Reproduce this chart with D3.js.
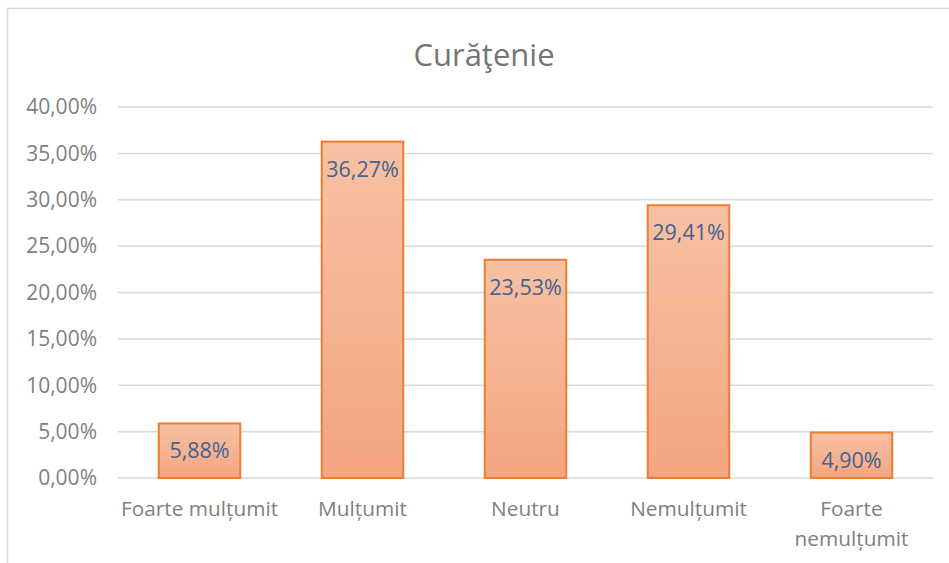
<!DOCTYPE html>
<html><head><meta charset="utf-8">
<script src="https://cdn.jsdelivr.net/npm/d3@7"></script>
<style>body{margin:0;background:#fff}svg{display:block}</style>
</head><body>
<svg id="c" width="949" height="563"></svg>
<script>
const categories = [["Foarte mulțumit"], ["Mulțumit"], ["Neutru"], ["Nemulțumit"], ["Foarte", "nemulțumit"]];
const values = [5.88, 36.27, 23.53, 29.41, 4.90];
const yTicks = [0, 5, 10, 15, 20, 25, 30, 35, 40];
const title = "Curăţenie";

const svg = d3.select("#c");
const font = "'Open Sans', sans-serif";
const fmt = v => v.toFixed(2).replace(".", ",") + "%";

// chart border (extends past the right/bottom edges as in the reference)
svg.append("rect").attr("x", 7.5).attr("y", 8.5).attr("width", 960).attr("height", 580)
  .attr("fill", "#fff").attr("stroke", "#d9d9d9").attr("stroke-width", 1.5);

const x = d3.scaleBand().domain(d3.range(categories.length)).range([118, 933]).paddingInner(0.5).paddingOuter(0.25);
const y = d3.scaleLinear().domain([0, 40]).range([478, 107]);

const defs = svg.append("defs");
const g = defs.append("linearGradient").attr("id", "grad").attr("x1", 0).attr("y1", 0).attr("x2", 0).attr("y2", 1);
g.append("stop").attr("offset", "0%").attr("stop-color", "#f7c1a3");
g.append("stop").attr("offset", "100%").attr("stop-color", "#f4a581");

// gridlines
svg.append("g").selectAll("line").data(yTicks).join("line")
  .attr("x1", 118).attr("x2", 933).attr("y1", d => y(d)).attr("y2", d => y(d))
  .attr("stroke", "#d9d9d9").attr("stroke-width", 1.5);

// y labels
svg.append("g").selectAll("text").data(yTicks).join("text")
  .attr("x", 97).attr("y", d => y(d)).attr("dy", "0.35em").attr("text-anchor", "end")
  .attr("font-family", font).attr("font-size", 21).attr("fill", "#7f7f7f")
  .text(d => fmt(d));

// bars
svg.append("g").selectAll("rect").data(values).join("rect")
  .attr("x", (d, i) => x(i)).attr("width", x.bandwidth())
  .attr("y", d => y(d)).attr("height", d => y(0) - y(d))
  .attr("fill", "url(#grad)").attr("stroke", "#ed7d31").attr("stroke-width", 2);

// value labels
svg.append("g").selectAll("text").data(values).join("text")
  .attr("x", (d, i) => x(i) + x.bandwidth() / 2).attr("y", d => y(d) + 35)
  .attr("text-anchor", "middle").attr("font-family", font).attr("font-size", 21.5).attr("fill", "#44618f")
  .text(d => fmt(d));

// category labels
const cl = svg.append("g").selectAll("text").data(categories).join("text")
  .attr("x", (d, i) => x(i) + x.bandwidth() / 2).attr("y", 516)
  .attr("text-anchor", "middle").attr("font-family", font).attr("font-size", 20.8).attr("fill", "#7f7f7f");
cl.selectAll("tspan").data(d => d).join("tspan")
  .attr("x", function() { return this.parentNode.getAttribute("x"); })
  .attr("dy", (d, i) => i === 0 ? 0 : 30).text(d => d);

// title
svg.append("text").attr("x", 484).attr("y", 66).attr("text-anchor", "middle")
  .attr("font-family", font).attr("font-size", 31).attr("fill", "#757575").text(title);
</script>
</body></html>
